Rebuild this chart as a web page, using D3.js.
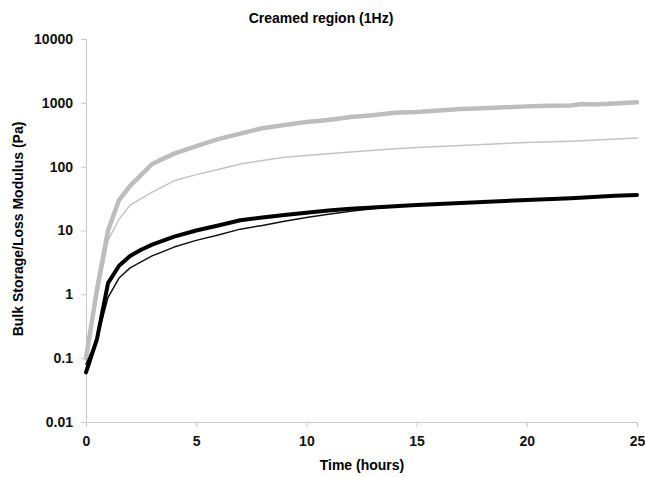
<!DOCTYPE html>
<html>
<head>
<meta charset="utf-8">
<script src="https://cdn.jsdelivr.net/npm/d3@7"></script>
<style>
  body { margin: 0; background: #fff; }
  text { font-family: "Liberation Sans", Arial, sans-serif; font-weight: bold; }
</style>
</head>
<body>
<svg id="chart" width="645" height="477"></svg>
<script>
"use strict";
// time in hours
var timeThickGray = [0, 0.5, 1, 1.5, 2, 3, 4, 5, 6, 7, 8, 9, 10, 11, 12, 13, 14, 15, 16, 17, 18, 19, 20, 21, 22, 22.5, 23, 24, 25];
var thickGray = [0.1, 1.2, 10, 30, 50, 110, 160, 210, 270, 330, 400, 450, 500, 540, 600, 640, 700, 720, 760, 800, 820, 850, 880, 900, 910, 960, 940, 980, 1020];

var timeThinGray = [0, 0.5, 1, 1.5, 2, 3, 4, 5, 6, 7, 8, 9, 10, 12, 14, 15, 17, 20, 22, 25];
var thinGray = [0.12, 0.9, 7, 15, 25, 40, 60, 75, 90, 110, 125, 140, 150, 170, 190, 200, 215, 240, 250, 280];

var timeThickBlack = [0, 0.5, 1, 1.5, 2, 2.5, 3, 4, 5, 6, 7, 8, 9, 10, 11, 12, 13, 14, 15, 16, 18, 20, 22, 24, 25];
var thickBlack = [0.06, 0.2, 1.5, 2.8, 4, 5, 6, 8, 10, 12, 14.5, 16, 17.5, 19, 20.5, 22, 23, 24, 25, 26, 28, 30, 32, 35, 36];

var timeThinBlack = [0, 0.5, 1, 1.5, 2, 3, 4, 5, 6, 7, 8, 9, 10, 11, 12, 13, 14, 15, 17, 20, 22, 25];
var thinBlack = [0.08, 0.2, 0.9, 1.8, 2.6, 4, 5.5, 7, 8.5, 10.5, 12, 14, 16, 18, 20, 22, 23.5, 25, 27, 30, 32, 36];

var xTicks = [0, 5, 10, 15, 20, 25];
var yTicks = [0.01, 0.1, 1, 10, 100, 1000, 10000];

var svg = d3.select("#chart");
var plotLeft = 86, plotRight = 637, plotTop = 39, plotBottom = 422;

var x = d3.scaleLinear().domain([0, 25]).range([plotLeft, plotRight]);
var y = d3.scaleLog().domain([0.01, 10000]).range([plotBottom, plotTop]);

// title
svg.append("text")
  .attr("x", 321).attr("y", 23)
  .attr("text-anchor", "middle")
  .style("font-size", "14px")
  .text("Creamed region (1Hz)");

// axes
var xAxis = svg.append("g")
  .attr("transform", "translate(0," + plotBottom + ")")
  .call(d3.axisBottom(x).tickValues(xTicks).tickSize(5).tickPadding(9).tickFormat(d3.format("d")));
var yAxis = svg.append("g")
  .attr("transform", "translate(" + plotLeft + ",0)")
  .call(d3.axisLeft(y).tickValues(yTicks).tickSize(5).tickPadding(8).tickFormat(function (d) { return String(d); }));

[xAxis, yAxis].forEach(function (g) {
  g.select(".domain").attr("stroke", "#c8c8c8");
  g.selectAll(".tick line").attr("stroke", "#c8c8c8");
  g.selectAll(".tick text")
    .attr("fill", "#111")
    .style("font-size", "14px")
    .style("font-family", "'Liberation Sans', Arial, sans-serif")
    .style("font-weight", "bold");
});

// axis titles
svg.append("text")
  .attr("x", 362).attr("y", 470)
  .attr("text-anchor", "middle")
  .style("font-size", "14px")
  .text("Time (hours)");
svg.append("text")
  .attr("transform", "translate(23,229) rotate(-90)")
  .attr("text-anchor", "middle")
  .style("font-size", "14px")
  .text("Bulk Storage/Loss Modulus (Pa)");

var line = d3.line()
  .x(function (d) { return x(d[0]); })
  .y(function (d) { return y(d[1]); });

function drawSeries(times, values, color, width) {
  svg.append("path")
    .datum(d3.zip(times, values))
    .attr("fill", "none")
    .attr("stroke", color)
    .attr("stroke-width", width)
    .attr("stroke-linejoin", "round")
    .attr("stroke-linecap", "round")
    .attr("d", line);
}

drawSeries(timeThinGray, thinGray, "#c4c4c4", 1.5);
drawSeries(timeThickGray, thickGray, "#bdbdbd", 4.5);
drawSeries(timeThinBlack, thinBlack, "#111", 1.5);
drawSeries(timeThickBlack, thickBlack, "#000", 4);
</script>
</body>
</html>
